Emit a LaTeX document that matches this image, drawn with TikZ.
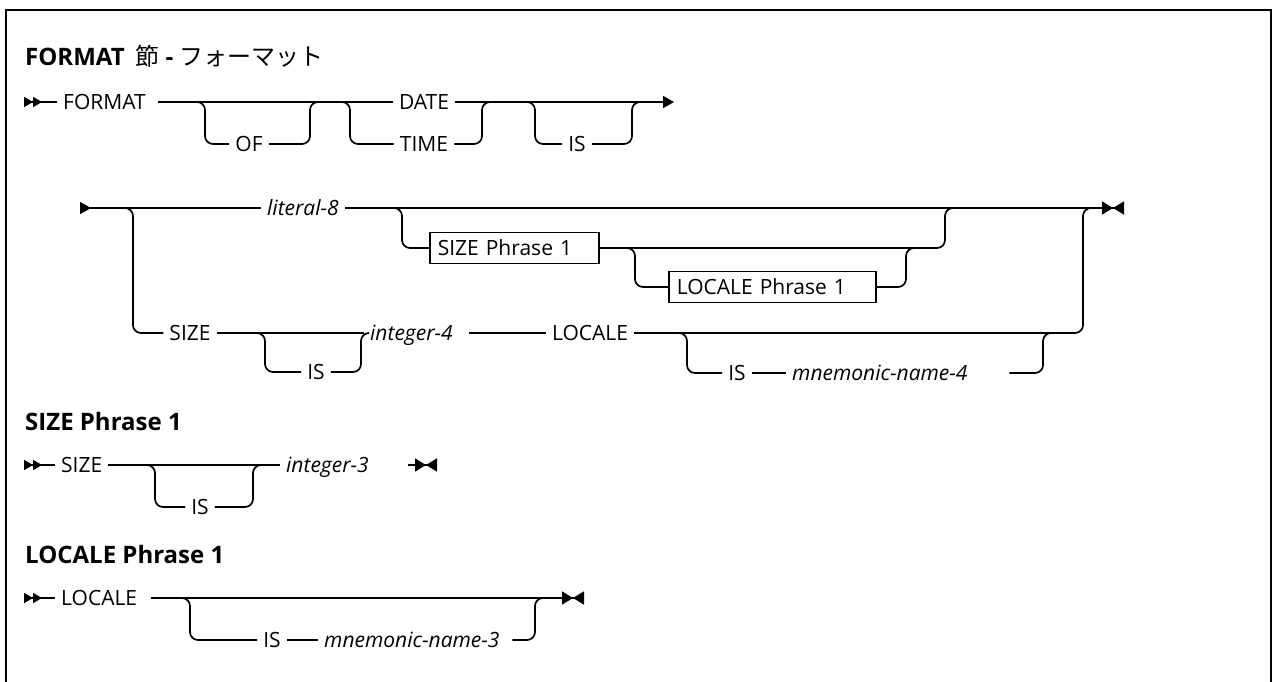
\documentclass[tikz,border=0pt]{standalone}
\usepackage{fontspec}
\setmainfont{Open Sans}
\newfontfamily\cjk{Noto Sans CJK JP}
\usetikzlibrary{arrows.meta}

\begin{document}
\begin{tikzpicture}[x=1pt,y=-1pt,
  rail/.style={line width=1.7pt, rounded corners=8pt},
  kw/.style={inner xsep=6pt, inner ysep=2pt, text height=15pt, text depth=0pt, font=\fontsize{21}{24}\selectfont},
  vname/.style={kw, font=\fontsize{21}{24}\selectfont\itshape},
  slot/.style={anchor=west, text width=#1, align=left},
  phrase/.style={kw, draw, line width=1.6pt, anchor=west, inner xsep=8pt, minimum height=31pt, text width=#1, align=left},
  heading/.style={anchor=base west, inner sep=0pt, font=\fontsize{24}{28}\selectfont\bfseries},
  startmark/.style={{Triangle[reversed,length=9pt,width=10pt]Triangle[reversed,length=9pt,width=10pt]}-},
  contmark/.style={{Triangle[reversed,length=11pt,width=12pt]}-},
  nextmark/.style={-{Triangle[length=11pt,width=12pt]}},
  endmark/.style={-{Triangle[length=11pt,width=13pt]Triangle[reversed,length=11pt,width=13pt]}}]
  \useasboundingbox (0,0) rectangle (1274,681);
  \draw[line width=2pt] (6,684) -- (6,10) -- (1271,10) -- (1271,684);

  % main clause
  \node[heading] (title) at (25,65) {FORMAT\hspace{11pt}{\cjk\mdseries 節}\hspace{6pt}-\hspace{6pt}{\cjk\mdseries フォーマット}};
  \coordinate (r1s) at (24,102);
  \node[kw, slot=89pt] (fmt) at (57,102) {FORMAT};
  \node[kw] (of) at (249,144) {OF};
  \node[kw] (date) at (424,102) {DATE};
  \node[kw] (time) at (424,144) {TIME};
  \node[kw] (is1) at (577,144) {IS};
  \coordinate (r1e) at (674,102);
  \coordinate (ofin) at (205,102);
  \coordinate (ofout) at (310,102);
  \coordinate (dtin) at (350,102);
  \coordinate (dtout) at (482,102);
  \coordinate (isin) at (535,102);
  \coordinate (isout) at (632,102);
  \draw[rail, startmark] (r1s) -- (fmt);
  \draw[rail] (fmt) -- (date);
  \draw[rail, nextmark] (date) -- (r1e);
  \draw[rail] (ofin) ++(-8,0) -- (ofin) |- (of);
  \draw[rail] (of) -| (ofout) -- ++(8,0);
  \draw[rail] (dtin) ++(-8,0) -- (dtin) |- (time);
  \draw[rail] (time) -| (dtout) -- ++(8,0);
  \draw[rail] (isin) ++(-8,0) -- (isin) |- (is1);
  \draw[rail] (is1) -| (isout) -- ++(8,0);

  \coordinate (r2s) at (80,208);
  \node[vname] (lit) at (303,208) {literal-8};
  \coordinate (r2e) at (1124,208);
  \draw[rail, contmark] (r2s) -- (lit);
  \draw[rail, endmark] (lit) -- (r2e);
  % optional phrases
  \coordinate (opin) at (402,208);
  \coordinate (opout) at (945,208);
  \node[phrase=153pt] (sp1) at (429,248) {SIZE Phrase 1};
  \coordinate (lpin) at (635,248);
  \coordinate (lpout) at (906,248);
  \node[phrase=191pt] (lp1) at (668,287) {LOCALE Phrase 1};
  \draw[rail] (opin) ++(-8,0) -- (opin) |- (sp1);
  \draw[rail] (sp1) -| (opout) -- ++(8,0);
  \draw[rail] (lpin) ++(-8,0) -- (lpin) |- (lp1);
  \draw[rail] (lp1) -| (lpout) -- ++(8,0);
  % SIZE choice
  \coordinate (chin) at (133,208);
  \coordinate (chout) at (1083,208);
  \node[kw] (size) at (190,333) {SIZE};
  \node[kw] (is2) at (316,372) {IS};
  \node[vname, slot=93pt] (int4) at (364,333) {integer-4};
  \node[kw] (loc) at (590,333) {LOCALE};
  \coordinate (is2in) at (265,333);
  \coordinate (is2out) at (361,333);
  \node[kw] (is3) at (737,373) {IS};
  \node[vname, slot=211pt] (mn4) at (786,373) {mnemonic-name-4};
  \coordinate (mnin) at (687,333);
  \coordinate (mnout) at (1043,333);
  \draw[rail] (chin) ++(-8,0) -- (chin) |- (size);
  \draw[rail] (size) -- (int4);
  \draw[rail] (is2in) ++(-8,0) -- (is2in) |- (is2);
  \draw[rail] (is2) -| (is2out) -- ++(8,0);
  \draw[rail] (int4) -- (loc);
  \draw[rail] (loc) -| (chout) -- ++(8,0);
  \draw[rail] (mnin) ++(-8,0) -- (mnin) |- (is3);
  \draw[rail] (is3) -- (mn4);
  \draw[rail] (mn4) -| (mnout) -- ++(8,0);

  % SIZE phrase
  \node[heading] (h2) at (25,430) {SIZE Phrase 1};
  \coordinate (r3s) at (24,465);
  \node[kw, anchor=west] (size3) at (55,465) {SIZE};
  \node[kw] (is4) at (200,507) {IS};
  \node[vname, slot=116pt] (int3) at (280,465) {integer-3};
  \coordinate (r3e) at (437,465);
  \coordinate (is4in) at (155,465);
  \coordinate (is4out) at (253,465);
  \draw[rail, startmark] (r3s) -- (size3);
  \draw[rail] (size3) -- (int3);
  \draw[rail, endmark] (int3) -- (r3e);
  \draw[rail] (is4in) ++(-8,0) -- (is4in) |- (is4);
  \draw[rail] (is4) -| (is4out) -- ++(8,0);

  % LOCALE phrase
  \node[heading] (h3) at (25,563) {LOCALE Phrase 1};
  \coordinate (r4s) at (24,598);
  \node[kw, slot=84pt] (loc4) at (55,598) {LOCALE};
  \node[kw] (is5) at (272,640) {IS};
  \node[vname, slot=182pt] (mn3) at (318,640) {mnemonic-name-3};
  \coordinate (r4e) at (584,598);
  \coordinate (is5in) at (190,598);
  \coordinate (is5out) at (535,598);
  \draw[rail, startmark] (r4s) -- (loc4);
  \draw[rail, endmark] (loc4) -- (r4e);
  \draw[rail] (is5in) ++(-8,0) -- (is5in) |- (is5);
  \draw[rail] (is5) -- (mn3);
  \draw[rail] (mn3) -| (is5out) -- ++(8,0);
\end{tikzpicture}
\end{document}
